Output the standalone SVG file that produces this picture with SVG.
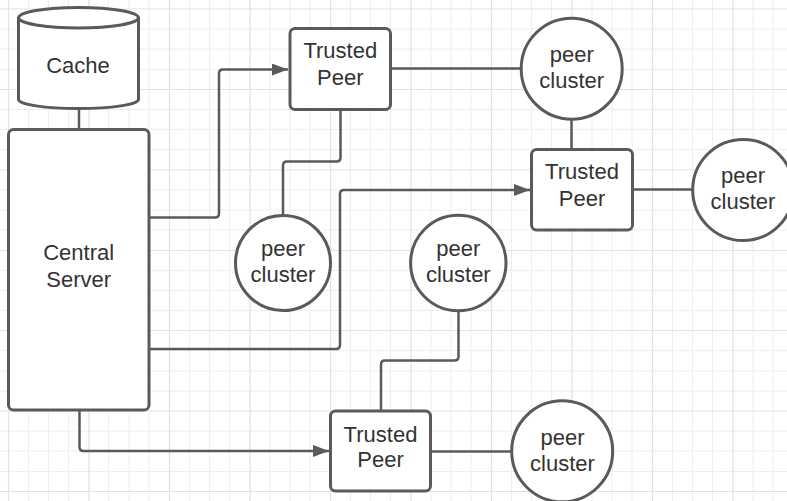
<svg xmlns="http://www.w3.org/2000/svg" width="787" height="501" viewBox="0 0 787 501">
<style>
.minor{stroke:#eeeeee;stroke-width:1;fill:none}
.major{stroke:#e2e2e2;stroke-width:1.2;fill:none}
.shape{fill:#ffffff;stroke:#5a5a5a;stroke-width:3}
.conn{fill:none;stroke:#5a5a5a;stroke-width:2.5;stroke-linejoin:round}
text{font-family:"Liberation Sans",Arial,sans-serif;font-size:22px;fill:#333333;text-anchor:middle}
</style>
<defs>
<marker id="arr" markerUnits="userSpaceOnUse" markerWidth="17" markerHeight="13" refX="16" refY="6" orient="auto">
<path d="M0,0 L16,6 L0,12 z" fill="#5a5a5a"/>
</marker>
</defs>
<rect width="787" height="501" fill="#ffffff"/>
<g id="grid">
<path class="minor" d="M28.5,0V501M48.5,0V501M68.5,0V501M108.5,0V501M129,0V501M149,0V501M189.5,0V501M209.5,0V501M229.5,0V501M270,0V501M290,0V501M310,0V501M350.5,0V501M370.5,0V501M390.5,0V501M431,0V501M451,0V501M471,0V501M511.5,0V501M531.5,0V501M551.5,0V501M592,0V501M612,0V501M632,0V501M672.5,0V501M692.5,0V501M712.5,0V501M753,0V501M773,0V501
M0,29H787M0,49H787M0,69.5H787M0,109.5H787M0,129.5H787M0,149.5H787M0,190H787M0,210H787M0,230H787M0,270.5H787M0,290.5H787M0,310.5H787M0,350.5H787M0,371H787M0,391H787M0,431H787M0,451H787M0,471.5H787"/>
<path class="major" d="M8.5,0V501M89,0V501M169.5,0V501M250,0V501M330.5,0V501M411,0V501M491.5,0V501M572,0V501M652.5,0V501M733,0V501
M0,9H787M0,89.5H787M0,170H787M0,250.5H787M0,330.5H787M0,411H787M0,491.5H787"/>
</g>
<g id="connectors">
<path class="conn" d="M79,108V129"/>
<path class="conn" d="M149,217.5H215Q219,217.5 219,213.5V73.5Q219,69.5 223,69.5H288" marker-end="url(#arr)"/>
<path class="conn" d="M149,349H336Q340,349 340,345V194Q340,190 344,190H530" marker-end="url(#arr)"/>
<path class="conn" d="M79.5,410V447Q79.5,451 83.5,451H329" marker-end="url(#arr)"/>
<path class="conn" d="M340.5,109V157.5Q340.5,161.5 336.5,161.5H287Q283,161.5 283,165.5V215"/>
<path class="conn" d="M390,68.5H521"/>
<path class="conn" d="M571.5,119.5V149.5"/>
<path class="conn" d="M632.5,189.5H692.5"/>
<path class="conn" d="M458.5,311V356.5Q458.5,360.5 454.5,360.5H385Q381,360.5 381,364.5V411"/>
<path class="conn" d="M430.5,451.5H511.5"/>
</g>
<g id="cache">
<path class="shape" d="M18.5,17.5V99.5A60,9 0 0 0 138.5,99.5V17.5"/>
<ellipse class="shape" cx="78.5" cy="17.7" rx="60" ry="10.3"/>
<text x="78" y="72.7">Cache</text>
</g>
<g id="central-server">
<rect class="shape" x="8.5" y="129.5" width="140.5" height="280.5" rx="5"/>
<text x="78.7" y="260">Central</text>
<text x="78.7" y="286.7">Server</text>
</g>
<g id="trusted-peer-1">
<rect class="shape" x="290" y="28.5" width="100.5" height="81" rx="5"/>
<text x="340.3" y="58.3">Trusted</text>
<text x="340.3" y="85">Peer</text>
</g>
<g id="trusted-peer-2">
<rect class="shape" x="531.5" y="149.5" width="101" height="80.5" rx="5"/>
<text x="582" y="179.3">Trusted</text>
<text x="582" y="206">Peer</text>
</g>
<g id="trusted-peer-3">
<rect class="shape" x="330.5" y="411" width="100" height="80" rx="5"/>
<text x="380.5" y="441.7">Trusted</text>
<text x="380.5" y="467.3">Peer</text>
</g>
<g id="peer-cluster-1">
<circle class="shape" cx="283" cy="263" r="47.5"/>
<text x="283" y="256">peer</text>
<text x="283" y="282.3">cluster</text>
</g>
<g id="peer-cluster-2">
<circle class="shape" cx="571.7" cy="68.7" r="50.5"/>
<text x="571.7" y="61.7">peer</text>
<text x="571.7" y="88.3">cluster</text>
</g>
<g id="peer-cluster-3">
<circle class="shape" cx="743.2" cy="190" r="50.5"/>
<text x="743" y="183.3">peer</text>
<text x="743" y="208.8">cluster</text>
</g>
<g id="peer-cluster-4">
<circle class="shape" cx="458.3" cy="263" r="47.7"/>
<text x="458.3" y="256">peer</text>
<text x="458.3" y="282.3">cluster</text>
</g>
<g id="peer-cluster-5">
<circle class="shape" cx="562.2" cy="451.3" r="50.5"/>
<text x="562.5" y="445">peer</text>
<text x="562.5" y="471">cluster</text>
</g>
</svg>
